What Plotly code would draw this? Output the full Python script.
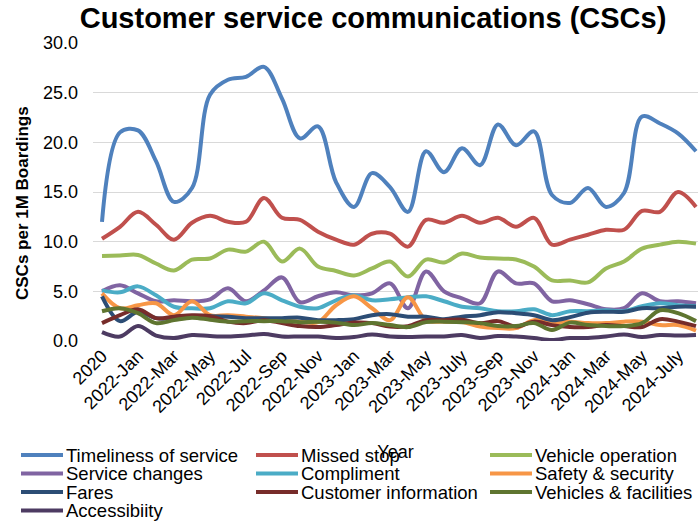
import plotly.graph_objects as go

# Category axis: annual points for 2020 and 2021, then monthly from 2022
categories = (
    ["2020", "2021"]
    + [f"2022-{m}" for m in ["Jan", "Feb", "Mar", "Apr", "May", "Jun",
                             "Jul", "Aug", "Sep", "Oct", "Nov", "Dec"]]
    + [f"2023-{m}" for m in ["Jan", "Feb", "Mar", "Apr", "May", "Jun",
                             "July", "Aug", "Sep", "Oct", "Nov", "Dec"]]
    + [f"2024-{m}" for m in ["Jan", "Feb", "Mar", "Apr", "May", "Jun",
                             "July", "Aug"]]
)
tick_labels = categories[::2]

timeliness = [12.0, 21.0, 21.2, 18.1, 14.0, 15.4, 24.8, 26.3, 26.6, 27.6, 24.4, 20.4,
              21.6, 16.0, 13.5, 16.9, 15.5, 13.0, 19.1, 17.0, 19.4, 17.7, 21.8, 19.7,
              21.1, 14.7, 13.9, 15.4, 13.5, 14.9, 22.6, 21.9, 20.9, 19.1]
missed_stop = [10.3, 11.5, 13.0, 11.7, 10.2, 11.9, 12.6, 12.0, 12.0, 14.4, 12.4, 12.2,
               11.0, 10.2, 9.7, 10.8, 10.8, 9.5, 12.2, 11.9, 12.6, 11.9, 12.4, 11.5,
               12.4, 9.7, 10.2, 10.7, 11.2, 11.2, 13.1, 13.0, 15.0, 13.5]
vehicle_operation = [8.56, 8.6, 8.66, 7.8, 7.1, 8.2, 8.3, 9.2, 9.0, 10.0, 8.0, 9.3,
                     7.5, 7.05, 6.6, 7.3, 8.0, 6.5, 8.2, 7.9, 8.8, 8.4, 8.3, 8.2,
                     7.5, 6.1, 6.1, 5.9, 7.3, 8.0, 9.3, 9.7, 10.0, 9.8]
service_changes = [5.0, 5.6, 4.8, 4.0, 4.1, 4.0, 4.2, 5.3, 4.0, 5.1, 6.4, 3.9,
                   4.5, 4.9, 4.6, 4.8, 5.8, 3.3, 7.0, 5.0, 4.3, 3.8, 7.0, 5.8,
                   5.8, 4.0, 4.1, 3.7, 3.2, 3.3, 4.8, 4.0, 4.0, 3.8]
compliment = [5.1, 4.9, 5.5, 4.6, 3.45, 3.3, 3.3, 4.0, 3.8, 4.8, 4.1, 3.45,
              3.3, 4.1, 4.6, 4.1, 4.2, 4.4, 4.5, 4.0, 3.45, 3.3, 3.0, 3.0,
              3.2, 2.6, 3.0, 3.0, 3.1, 3.0, 3.5, 3.8, 3.6, 3.5]
safety_security = [4.8, 3.3, 3.6, 3.8, 2.6, 4.0, 2.6, 2.6, 2.45, 2.3, 2.1, 1.95,
                   1.9, 3.6, 4.5, 3.3, 2.1, 4.4, 2.1, 1.95, 1.9, 1.45, 1.3, 1.3,
                   2.1, 1.9, 1.95, 1.8, 1.8, 1.95, 1.95, 1.6, 1.6, 1.05]
fares = [4.5, 2.0, 2.95, 2.3, 2.3, 2.5, 2.5, 2.45, 2.3, 2.3, 2.3, 2.35,
         2.1, 2.1, 2.2, 2.6, 2.7, 2.45, 2.45, 2.2, 2.45, 2.6, 2.9, 2.8,
         2.6, 2.1, 2.4, 2.85, 2.95, 2.95, 3.3, 3.3, 3.45, 3.45]
customer_information = [1.8, 2.6, 3.2, 2.3, 2.45, 2.6, 2.5, 1.95, 1.8, 2.1, 1.8, 1.5,
                        1.4, 1.6, 1.85, 1.8, 1.45, 1.5, 2.1, 2.1, 2.15, 1.8, 2.0, 1.45,
                        1.95, 1.6, 1.4, 1.4, 1.6, 1.5, 1.4, 2.2, 1.95, 1.5]
vehicles_facilities = [3.0, 3.3, 2.8, 1.8, 2.1, 2.35, 2.15, 1.95, 2.0, 2.0, 2.0, 1.9,
                       1.95, 1.85, 1.6, 1.8, 1.6, 1.4, 1.9, 1.95, 1.9, 1.8, 1.5, 1.5,
                       1.8, 1.1, 1.85, 1.6, 1.5, 1.5, 1.8, 3.1, 2.8, 2.0]
accessibility = [0.9, 0.45, 1.5, 0.55, 0.3, 0.6, 0.5, 0.45, 0.55, 0.7, 0.45, 0.45,
                 0.45, 0.3, 0.4, 0.65, 0.45, 0.4, 0.45, 0.45, 0.6, 0.3, 0.5, 0.45,
                 0.3, 0.1, 0.3, 0.3, 0.45, 0.65, 0.4, 0.6, 0.55, 0.6]

series_names = ["Timeliness of service", "Missed stop", "Vehicle operation",
                "Service changes", "Compliment", "Safety & security",
                "Fares", "Customer information", "Vehicles & facilities",
                "Accessibiity"]
series_values = [timeliness, missed_stop, vehicle_operation, service_changes,
                 compliment, safety_security, fares, customer_information,
                 vehicles_facilities, accessibility]
colors = ["#4F81BD", "#C0504D", "#9BBB59", "#8064A2", "#4BACC6", "#F79646",
          "#2C4D75", "#772C2A", "#5F7530", "#4D3B62"]

FONT = "Arial, Liberation Sans, sans-serif"
W, H = 698, 521
ML, MR, MT, MB = 93, 0, 43, 180
PW, PH = W - ML - MR, H - MT - MB
CAT_PX = 18.0  # pixel width of one category slot

fig = go.Figure()
for name, vals, col in zip(series_names, series_values, colors):
    fig.add_trace(go.Scatter(
        x=categories, y=vals, name=name, mode="lines",
        line=dict(color=col, width=4, shape="spline", smoothing=1.0),
        showlegend=False,
    ))


def px_x(px):
    return (px - ML) / PW


def px_y(py):
    return (MT + PH - py) / PH


# Legend laid out in three columns under the axis
col_x = [21, 256, 490]
row_y = [455, 473.5, 492, 510.5]
for i, (name, col) in enumerate(zip(series_names, colors)):
    r, c = divmod(i, 3)
    x0, yc = col_x[c], row_y[r]
    fig.add_shape(type="line", xref="paper", yref="paper",
                  x0=px_x(x0), x1=px_x(x0 + 42), y0=px_y(yc), y1=px_y(yc),
                  line=dict(color=col, width=4))
    fig.add_annotation(xref="paper", yref="paper", x=px_x(x0 + 43), y=px_y(yc),
                       xanchor="left", yanchor="middle", showarrow=False,
                       text=name, font=dict(family=FONT, size=18.5, color="#000000"))

# Vertical axis title, set a little below the plot's mid-height
fig.add_annotation(xref="paper", yref="paper", x=px_x(22), y=px_y(203),
                   xanchor="center", yanchor="middle", showarrow=False,
                   textangle=-90, text="CSCs per 1M Boardings",
                   font=dict(family=FONT, size=17, weight="bold", color="#000000"))

fig.update_layout(
    width=W, height=H,
    margin=dict(l=ML, r=MR, t=MT, b=MB, autoexpand=False),
    paper_bgcolor="white", plot_bgcolor="white",
    font=dict(family=FONT, color="#000000"),
    title=dict(text="Customer service communications (CSCs)",
               x=373 / W, xanchor="center", y=1 - 18 / H, yanchor="middle",
               font=dict(family=FONT, size=29, weight="bold", color="#000000")),
)
fig.update_xaxes(
    type="category", categoryorder="array", categoryarray=categories,
    range=[-0.5, -0.5 + PW / CAT_PX],
    tickvals=tick_labels, ticktext=tick_labels, tickangle=-45,
    tickfont=dict(family=FONT, size=18), showgrid=False, zeroline=False,
    showline=False, ticks="",
    title=dict(text="Year", font=dict(family=FONT, size=18), standoff=29),
)
fig.update_yaxes(
    range=[0, 30], dtick=5, tickformat=".1f",
    tickfont=dict(family=FONT, size=18), ticklabelstandoff=14,
    showgrid=True, gridcolor="#D9D9D9", gridwidth=1, zeroline=False,
    showline=False, ticks="",
)

fig.write_html("out.html")
